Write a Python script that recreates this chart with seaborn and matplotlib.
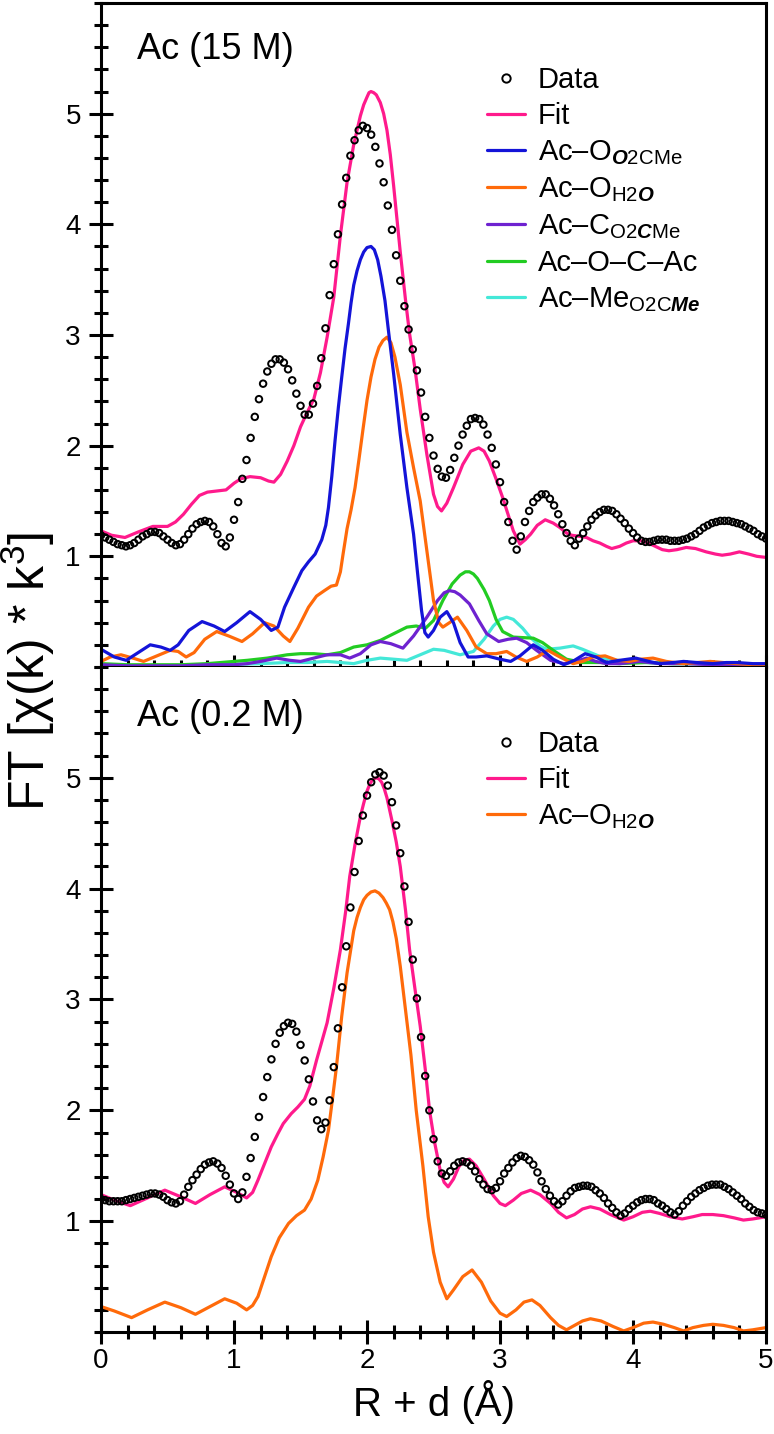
import numpy as np
import seaborn as sns
import matplotlib.pyplot as plt
import matplotlib.ticker as ticker
from matplotlib.lines import Line2D

##### Data

# data points (open circles) sit on a regular R grid, 1/32 A apart
r_data = np.linspace(0, 5, 161)

data_15M = [
    1.19, 1.17, 1.15, 1.13, 1.11, 1.10, 1.09, 1.10, 1.12, 1.15,
    1.18, 1.20, 1.22, 1.22, 1.21, 1.18, 1.15, 1.12, 1.10, 1.11,
    1.15, 1.20, 1.25, 1.29, 1.31, 1.32, 1.31, 1.27, 1.20, 1.12,
    1.09, 1.17, 1.33, 1.49, 1.70, 1.87, 2.07, 2.26, 2.42, 2.56,
    2.67, 2.74, 2.78, 2.78, 2.75, 2.69, 2.59, 2.47, 2.36, 2.28,
    2.28, 2.38, 2.54, 2.79, 3.06, 3.36, 3.64, 3.91, 4.18, 4.42,
    4.62, 4.76, 4.85, 4.89, 4.87, 4.81, 4.70, 4.55, 4.38, 4.17,
    3.95, 3.72, 3.49, 3.26, 3.05, 2.87, 2.68, 2.48, 2.26, 2.07,
    1.91, 1.79, 1.72, 1.71, 1.78, 1.89, 2.00, 2.10, 2.18, 2.24,
    2.25, 2.24, 2.19, 2.10, 1.98, 1.83, 1.67, 1.49, 1.31, 1.14,
    1.06, 1.18, 1.31, 1.41, 1.49, 1.53, 1.56, 1.56, 1.52, 1.46,
    1.38, 1.29, 1.21, 1.14, 1.10, 1.16, 1.21, 1.27, 1.33, 1.37,
    1.40, 1.42, 1.42, 1.41, 1.38, 1.34, 1.30, 1.25, 1.21, 1.17,
    1.14, 1.13, 1.13, 1.14, 1.15, 1.15, 1.15, 1.14, 1.14, 1.14,
    1.15, 1.16, 1.18, 1.20, 1.23, 1.26, 1.28, 1.30, 1.31, 1.32,
    1.32, 1.32, 1.31, 1.30, 1.29, 1.27, 1.25, 1.23, 1.20, 1.18,
    1.16]

data_02M = [
    1.20, 1.19, 1.18, 1.18, 1.18, 1.18, 1.19, 1.20, 1.21, 1.22,
    1.23, 1.24, 1.25, 1.25, 1.24, 1.22, 1.19, 1.17, 1.16, 1.18,
    1.24, 1.31, 1.37, 1.42, 1.47, 1.51, 1.53, 1.54, 1.52, 1.48,
    1.41, 1.33, 1.25, 1.20, 1.26, 1.40, 1.57, 1.76, 1.94, 2.12,
    2.30, 2.46, 2.60, 2.70, 2.76, 2.79, 2.78, 2.71, 2.59, 2.45,
    2.28, 2.08, 1.91, 1.83, 1.89, 2.09, 2.39, 2.74, 3.11, 3.48,
    3.83, 4.15, 4.43, 4.66, 4.84, 4.96, 5.03, 5.05, 5.02, 4.93,
    4.78, 4.57, 4.32, 4.02, 3.70, 3.36, 3.01, 2.66, 2.31, 2.00,
    1.74, 1.54, 1.43, 1.41, 1.45, 1.50, 1.53, 1.54, 1.53, 1.50,
    1.45, 1.38, 1.33, 1.29, 1.28, 1.30, 1.36, 1.43, 1.48, 1.53,
    1.57, 1.59, 1.58, 1.55, 1.51, 1.44, 1.36, 1.29, 1.23, 1.18,
    1.15, 1.18, 1.23, 1.27, 1.30, 1.31, 1.32, 1.32, 1.31, 1.28,
    1.25, 1.21, 1.16, 1.12, 1.08, 1.05, 1.07, 1.11, 1.14, 1.17,
    1.19, 1.20, 1.20, 1.19, 1.16, 1.14, 1.11, 1.08, 1.06, 1.09,
    1.14, 1.18, 1.22, 1.25, 1.28, 1.30, 1.32, 1.33, 1.33, 1.33,
    1.31, 1.29, 1.26, 1.23, 1.20, 1.16, 1.13, 1.10, 1.08, 1.07,
    1.06]

# fit / path curves as (R, FT) pairs
fit15_r = [0.00, 0.08, 0.18, 0.28, 0.39, 0.50, 0.56, 0.62, 0.68, 0.74,
           0.80, 0.87, 0.94, 1.00, 1.05, 1.12, 1.20, 1.26, 1.30, 1.35,
           1.40, 1.45, 1.50, 1.55, 1.60, 1.65, 1.70, 1.75, 1.80, 1.85,
           1.90, 1.95, 1.975, 2.00, 2.015, 2.03, 2.05, 2.07, 2.10, 2.125,
           2.15, 2.175, 2.20, 2.225, 2.25, 2.29, 2.32, 2.36, 2.40, 2.45,
           2.50, 2.53, 2.56, 2.60, 2.65, 2.72, 2.78, 2.84, 2.88, 2.92,
           2.97, 3.02, 3.06, 3.10, 3.15, 3.19, 3.23, 3.28, 3.34, 3.40,
           3.45, 3.50, 3.54, 3.60, 3.65, 3.70, 3.75, 3.80, 3.84, 3.90,
           3.95, 4.00, 4.07, 4.15, 4.22, 4.27, 4.33, 4.40, 4.47, 4.55,
           4.62, 4.67, 4.73, 4.80, 4.87, 4.93, 5.00]
fit15_y = [1.23, 1.19, 1.17, 1.22, 1.27, 1.27, 1.31, 1.38, 1.47, 1.55,
           1.58, 1.59, 1.60, 1.66, 1.70, 1.72, 1.71, 1.68, 1.67, 1.74,
           1.86, 2.00, 2.17, 2.30, 2.42, 2.66, 2.98, 3.34, 3.90, 4.38,
           4.72, 4.98, 5.08, 5.15, 5.19, 5.20, 5.19, 5.17, 5.10, 5.00,
           4.85, 4.63, 4.35, 4.05, 3.75, 3.31, 3.01, 2.70, 2.33, 1.92,
           1.56, 1.45, 1.41, 1.48, 1.62, 1.83, 1.95, 1.98, 1.95, 1.86,
           1.70, 1.53, 1.38, 1.23, 1.11, 1.15, 1.20, 1.28, 1.33, 1.30,
           1.26, 1.21, 1.19, 1.18, 1.17, 1.14, 1.12, 1.09, 1.07, 1.09,
           1.12, 1.14, 1.14, 1.10, 1.06, 1.05, 1.06, 1.08, 1.07, 1.04,
           1.02, 1.01, 1.02, 1.04, 1.02, 1.00, 0.99]

blue15_r = [0.00, 0.10, 0.19, 0.28, 0.37, 0.45, 0.52, 0.58, 0.66, 0.76,
            0.85, 0.93, 1.02, 1.12, 1.20, 1.28, 1.33, 1.38, 1.45, 1.51,
            1.56, 1.61, 1.66, 1.69, 1.71, 1.735, 1.76, 1.785, 1.81, 1.835,
            1.86, 1.88, 1.90, 1.925, 1.95, 1.975, 2.00, 2.03, 2.055, 2.08,
            2.105, 2.135, 2.165, 2.20, 2.25, 2.30, 2.35, 2.38, 2.41, 2.435,
            2.46, 2.50, 2.55, 2.60, 2.65, 2.70, 2.76, 2.82, 2.90, 3.00,
            3.08, 3.15, 3.25, 3.32, 3.40, 3.48, 3.56, 3.64, 3.72, 3.80,
            3.90, 4.02, 4.12, 4.20, 4.30, 4.38, 4.48, 4.60, 4.70, 4.78,
            4.90, 5.00]
blue15_y = [0.16, 0.09, 0.06, 0.13, 0.20, 0.18, 0.15, 0.20, 0.33, 0.41,
            0.37, 0.32, 0.40, 0.50, 0.43, 0.33, 0.36, 0.54, 0.72, 0.87,
            0.95, 1.02, 1.15, 1.28, 1.44, 1.72, 2.05, 2.35, 2.62, 2.88,
            3.10, 3.29, 3.45, 3.58, 3.68, 3.75, 3.79, 3.80, 3.77, 3.68,
            3.53, 3.31, 3.00, 2.65, 2.10, 1.62, 1.20, 0.85, 0.51, 0.31,
            0.27, 0.33, 0.45, 0.50, 0.40, 0.22, 0.09, 0.09, 0.10, 0.07,
            0.05, 0.10, 0.20, 0.15, 0.07, 0.02, 0.06, 0.12, 0.09, 0.04,
            0.06, 0.08, 0.05, 0.03, 0.04, 0.05, 0.04, 0.03, 0.04, 0.04,
            0.03, 0.03]

orange15_r = [0.00, 0.07, 0.15, 0.24, 0.32, 0.42, 0.52, 0.58, 0.64, 0.70,
              0.78, 0.87, 0.96, 1.06, 1.14, 1.23, 1.30, 1.37, 1.42, 1.48,
              1.56, 1.62, 1.68, 1.73, 1.77, 1.80, 1.82, 1.85, 1.88, 1.91,
              1.94, 1.97, 2.00, 2.03, 2.06, 2.09, 2.12, 2.15, 2.18, 2.21,
              2.25, 2.30, 2.35, 2.40, 2.45, 2.50, 2.54, 2.57, 2.62, 2.68,
              2.75, 2.82, 2.90, 2.97, 3.05, 3.12, 3.20, 3.28, 3.36, 3.45,
              3.55, 3.62, 3.70, 3.79, 3.88, 3.97, 4.06, 4.15, 4.25, 4.38,
              4.48, 4.58, 4.68, 4.78, 4.90, 5.00]
orange15_y = [0.05, 0.09, 0.11, 0.08, 0.05, 0.10, 0.15, 0.14, 0.09, 0.13,
              0.25, 0.32, 0.28, 0.23, 0.30, 0.40, 0.37, 0.28, 0.23, 0.35,
              0.54, 0.64, 0.69, 0.73, 0.74, 0.86, 1.02, 1.25, 1.42, 1.62,
              1.88, 2.15, 2.41, 2.62, 2.78, 2.89, 2.95, 2.98, 2.93, 2.80,
              2.55, 2.12, 1.80, 1.50, 1.05, 0.60, 0.40, 0.36, 0.40, 0.45,
              0.33, 0.18, 0.12, 0.12, 0.14, 0.09, 0.05, 0.09, 0.15, 0.09,
              0.03, 0.05, 0.09, 0.10, 0.06, 0.05, 0.07, 0.08, 0.05, 0.03,
              0.04, 0.05, 0.04, 0.03, 0.02, 0.02]

purple15_r = [0.00, 0.20, 0.40, 0.60, 0.80, 1.00, 1.10, 1.20, 1.32, 1.42,
              1.50, 1.60, 1.70, 1.80, 1.87, 1.95, 2.03, 2.10, 2.18, 2.27,
              2.35, 2.45, 2.53, 2.58, 2.62, 2.66, 2.70, 2.77, 2.84, 2.90,
              2.99, 3.06, 3.125, 3.20, 3.275, 3.38, 3.48, 3.57, 3.65, 3.72,
              3.80, 3.90, 4.05, 4.20, 4.40, 4.60, 4.80, 5.00]
purple15_y = [0.02, 0.01, 0.01, 0.01, 0.02, 0.02, 0.03, 0.05, 0.08, 0.06,
              0.05, 0.08, 0.11, 0.11, 0.08, 0.12, 0.20, 0.23, 0.21, 0.17,
              0.28, 0.45, 0.60, 0.67, 0.69, 0.68, 0.65, 0.57, 0.42, 0.30,
              0.23, 0.25, 0.26, 0.22, 0.15, 0.06, 0.03, 0.05, 0.08, 0.05,
              0.03, 0.03, 0.05, 0.03, 0.03, 0.02, 0.02, 0.02]

green15_r = [0.00, 0.20, 0.40, 0.60, 0.80, 1.00, 1.10, 1.25, 1.40, 1.50,
             1.60, 1.70, 1.80, 1.90, 2.00, 2.10, 2.20, 2.30, 2.37, 2.44,
             2.50, 2.57, 2.64, 2.70, 2.74, 2.77, 2.80, 2.83, 2.88, 2.92,
             2.97, 3.02, 3.10, 3.25, 3.32, 3.40, 3.50, 3.62, 3.75, 3.90,
             4.10, 4.30, 4.50, 4.75, 5.00]
green15_y = [0.03, 0.02, 0.02, 0.02, 0.03, 0.05, 0.06, 0.08, 0.11, 0.12,
             0.12, 0.11, 0.13, 0.18, 0.20, 0.24, 0.30, 0.36, 0.37, 0.35,
             0.42, 0.60, 0.75, 0.83, 0.86, 0.86, 0.84, 0.80, 0.70, 0.60,
             0.43, 0.32, 0.27, 0.26, 0.22, 0.15, 0.07, 0.04, 0.04, 0.03,
             0.04, 0.03, 0.03, 0.02, 0.02]

cyan15_r = [0.00, 0.30, 0.60, 0.90, 1.20, 1.40, 1.55, 1.70, 1.80, 1.90,
            2.00, 2.10, 2.20, 2.30, 2.40, 2.50, 2.58, 2.70, 2.80, 2.88,
            2.95, 3.00, 3.05, 3.10, 3.17, 3.225, 3.30, 3.35, 3.45, 3.55,
            3.62, 3.70, 3.78, 3.88, 3.98, 4.10, 4.30, 4.50, 4.80, 5.00]
cyan15_y = [0.01, 0.01, 0.01, 0.02, 0.03, 0.04, 0.04, 0.05, 0.04, 0.03,
            0.06, 0.08, 0.07, 0.06, 0.11, 0.16, 0.15, 0.11, 0.14, 0.25,
            0.37, 0.43, 0.45, 0.43, 0.35, 0.27, 0.19, 0.16, 0.17, 0.19,
            0.16, 0.12, 0.08, 0.06, 0.05, 0.04, 0.03, 0.03, 0.02, 0.02]

fit02_r = [0.00, 0.10, 0.22, 0.35, 0.48, 0.60, 0.71, 0.82, 0.93, 1.02,
           1.095, 1.14, 1.18, 1.23, 1.28, 1.33, 1.37, 1.43, 1.48, 1.53,
           1.57, 1.62, 1.66, 1.70, 1.75, 1.80, 1.84, 1.87, 1.91, 1.95,
           1.975, 2.00, 2.02, 2.04, 2.07, 2.09, 2.11, 2.13, 2.15, 2.19,
           2.22, 2.25, 2.29, 2.32, 2.36, 2.40, 2.44, 2.47, 2.51, 2.55,
           2.58, 2.61, 2.65, 2.69, 2.73, 2.77, 2.82, 2.88, 2.95, 3.00,
           3.04, 3.10, 3.16, 3.23, 3.30, 3.38, 3.44, 3.50, 3.56, 3.62,
           3.68, 3.75, 3.83, 3.93, 4.00, 4.07, 4.13, 4.20, 4.28, 4.37,
           4.45, 4.52, 4.60, 4.68, 4.76, 4.83, 4.90, 5.00]
fit02_y = [1.24, 1.19, 1.14, 1.21, 1.28, 1.22, 1.16, 1.24, 1.31, 1.26,
           1.21, 1.26, 1.37, 1.52, 1.67, 1.79, 1.88, 1.97, 2.03, 2.10,
           2.22, 2.45, 2.62, 2.79, 3.10, 3.45, 3.80, 4.11, 4.40, 4.65,
           4.77, 4.88, 4.94, 4.98, 5.00, 4.99, 4.96, 4.90, 4.82, 4.60,
           4.42, 4.20, 3.80, 3.45, 3.10, 2.76, 2.35, 2.00, 1.70, 1.46,
           1.35, 1.31, 1.38, 1.49, 1.55, 1.56, 1.50, 1.38, 1.23, 1.16,
           1.14, 1.19, 1.25, 1.28, 1.24, 1.16, 1.08, 1.03, 1.06, 1.11,
           1.13, 1.11, 1.06, 1.01, 1.04, 1.08, 1.09, 1.07, 1.04, 1.02,
           1.04, 1.06, 1.06, 1.05, 1.03, 1.01, 1.02, 1.04]

orange02_r = [0.00, 0.10, 0.23, 0.35, 0.48, 0.60, 0.71, 0.82, 0.93, 1.02,
              1.095, 1.14, 1.18, 1.23, 1.28, 1.34, 1.41, 1.47, 1.53, 1.58,
              1.63, 1.67, 1.71, 1.74, 1.77, 1.81, 1.85, 1.90, 1.925, 1.95,
              1.975, 2.00, 2.03, 2.06, 2.09, 2.12, 2.145, 2.17, 2.195, 2.22,
              2.25, 2.28, 2.33, 2.37, 2.42, 2.46, 2.50, 2.55, 2.60, 2.65,
              2.72, 2.79, 2.86, 2.93, 3.00, 3.05, 3.12, 3.18, 3.24, 3.30,
              3.38, 3.44, 3.50, 3.56, 3.62, 3.68, 3.76, 3.85, 3.93, 4.00,
              4.08, 4.15, 4.23, 4.31, 4.38, 4.45, 4.53, 4.60, 4.68, 4.76,
              4.83, 4.90, 5.00]
orange02_y = [0.23, 0.19, 0.13, 0.20, 0.27, 0.22, 0.16, 0.23, 0.30, 0.26,
              0.20, 0.24, 0.32, 0.50, 0.68, 0.85, 0.98, 1.05, 1.10, 1.20,
              1.37, 1.58, 1.82, 2.10, 2.39, 2.85, 3.24, 3.62, 3.74, 3.83,
              3.90, 3.94, 3.97, 3.98, 3.96, 3.92, 3.87, 3.81, 3.70, 3.55,
              3.30, 3.00, 2.50, 2.00, 1.50, 1.04, 0.72, 0.45, 0.30, 0.38,
              0.50, 0.56, 0.45, 0.28, 0.17, 0.14, 0.20, 0.27, 0.29, 0.24,
              0.13, 0.06, 0.02, 0.06, 0.10, 0.12, 0.10, 0.05, 0.01, 0.04,
              0.08, 0.09, 0.07, 0.04, 0.01, 0.04, 0.06, 0.07, 0.06, 0.04,
              0.01, 0.02, 0.04]

label_data = 'Data'
label_fit = 'Fit'
label_blue = 'Ac–O$_{\\mathbfit{O}\\mathrm{2CMe}}$'
label_orange = 'Ac–O$_{\\mathrm{H2}\\mathbfit{O}}$'
label_purple = 'Ac–C$_{\\mathrm{O2}\\mathbfit{C}\\mathrm{Me}}$'
label_green = 'Ac–O–C–Ac'
label_cyan = 'Ac–Me$_{\\mathrm{O2C}\\mathbfit{Me}}$'

c_fit = '#FF1A8C'
c_blue = '#1414D8'
c_orange = '#FF6A0A'
c_purple = '#6E22D0'
c_green = '#22CC22'
c_cyan = '#44E8D8'

##### Style

sns.set_style('ticks')
plt.rcParams['font.family'] = ['Liberation Sans', 'DejaVu Sans']
plt.rcParams['mathtext.fontset'] = 'custom'
plt.rcParams['mathtext.rm'] = 'Liberation Sans'
plt.rcParams['mathtext.it'] = 'Liberation Sans:italic'
plt.rcParams['mathtext.bf'] = 'Liberation Sans:bold'
plt.rcParams['mathtext.bfit'] = 'Liberation Sans:bold:italic'
for k in ['text.color', 'axes.labelcolor', 'xtick.color', 'ytick.color',
          'axes.edgecolor']:
    plt.rcParams[k] = 'black'

fig = plt.figure(figsize=(7.74, 14.34), dpi=100)
ax1 = fig.add_axes([0.1305, 0.5349, 0.8592, 0.4630])
ax2 = fig.add_axes([0.1305, 0.0711, 0.8592, 0.4638])

lw = 2.3


def curve(ax, r, y, c):
    sns.lineplot(x=r, y=y, ax=ax, color=c, lw=lw, sort=False,
                 estimator=None, legend=False)


def points(ax, y):
    sns.scatterplot(x=r_data, y=y, ax=ax, marker='o', s=22,
                    facecolor='none', edgecolor='black', linewidth=1.4,
                    legend=False, zorder=5)


####### Top panel: Ac (15 M)

curve(ax1, cyan15_r, cyan15_y, c_cyan)
curve(ax1, green15_r, green15_y, c_green)
curve(ax1, purple15_r, purple15_y, c_purple)
curve(ax1, orange15_r, orange15_y, c_orange)
curve(ax1, blue15_r, blue15_y, c_blue)
curve(ax1, fit15_r, fit15_y, c_fit)
points(ax1, data_15M)

####### Bottom panel: Ac (0.2 M)

curve(ax2, orange02_r, orange02_y, c_orange)
curve(ax2, fit02_r, fit02_y, c_fit)
points(ax2, data_02M)

for ax in (ax1, ax2):
    ax.set_xlim(0, 5)
    ax.set_ylim(0, 6)
    ax.xaxis.set_major_locator(ticker.MultipleLocator(1))
    ax.xaxis.set_minor_locator(ticker.MultipleLocator(0.2))
    ax.yaxis.set_major_locator(ticker.FixedLocator([1, 2, 3, 4, 5]))
    ax.yaxis.set_minor_locator(ticker.MultipleLocator(0.2))
    ax.tick_params(which='both', direction='inout', width=2.2,
                   colors='black', labelsize=20)
    ax.tick_params(which='major', length=17)
    ax.tick_params(which='minor', length=9.5)
    ax.tick_params(axis='x', pad=3)
    ax.tick_params(axis='y', pad=6)
    for s in ax.spines.values():
        s.set_linewidth(2.2)
        s.set_color('black')
    ax.set_xlabel('')
    ax.set_ylabel('')

ax1.tick_params(axis='x', labelbottom=False)
ax2.tick_params(axis='x', which='both', top=False)
ax2.spines['top'].set_visible(False)

ax2.set_xlabel('R + d (Å)', fontsize=29, labelpad=4)
fig.text(0.036, 0.532, 'FT [χ(k) * k$^3$]', rotation=90, fontsize=36,
         ha='center', va='center')

ax1.text(0.054, 0.93, 'Ac (15 M)', transform=ax1.transAxes, fontsize=26,
         ha='left', va='center')
ax2.text(0.054, 0.926, 'Ac (0.2 M)', transform=ax2.transAxes, fontsize=26,
         ha='left', va='center')

##### Legends


def h_line(c):
    return Line2D([], [], color=c, lw=lw)


h_data = Line2D([], [], ls='', marker='o', markersize=6,
                markerfacecolor='none', markeredgecolor='black', mew=1.4)

leg_kw = dict(loc='upper left', frameon=False, fontsize=21,
              handlelength=1.3, handletextpad=0.45, labelspacing=0.28,
              borderpad=0, borderaxespad=0)

ax1.legend([h_data, h_line(c_fit), h_line(c_blue), h_line(c_orange),
            h_line(c_purple), h_line(c_green), h_line(c_cyan)],
           [label_data, label_fit, label_blue, label_orange, label_purple,
            label_green, label_cyan],
           bbox_to_anchor=(0.58, 0.905), **leg_kw)

ax2.legend([h_data, h_line(c_fit), h_line(c_orange)],
           [label_data, label_fit, label_orange],
           bbox_to_anchor=(0.58, 0.905), **leg_kw)

plt.savefig('out.png', dpi=100)
